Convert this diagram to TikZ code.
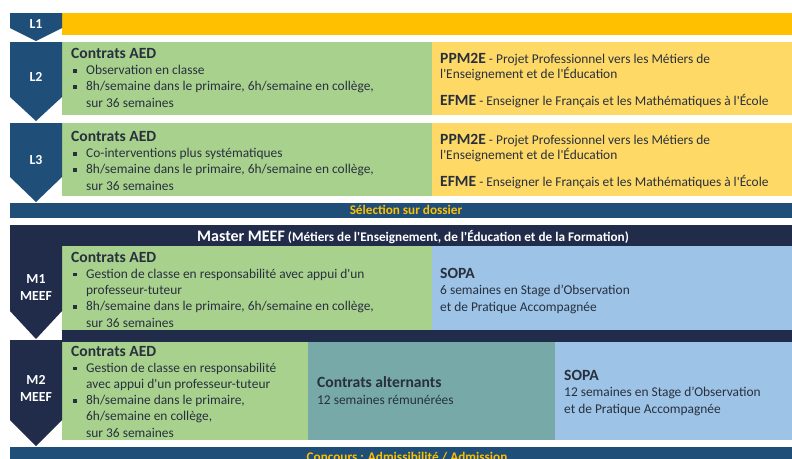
\documentclass[tikz,border=0pt]{standalone}
\usepackage{fontspec}
\setmainfont{Carlito}[Ligatures=TeXOff]
\usepackage{tikz}
\definecolor{lblue}{RGB}{31,78,121}
\definecolor{mnavy}{RGB}{33,44,75}
\definecolor{gold}{RGB}{255,192,0}
\definecolor{lgreen}{RGB}{169,209,142}
\definecolor{lyellow}{RGB}{255,217,102}
\definecolor{sky}{RGB}{157,195,230}
\definecolor{teal}{RGB}{118,169,168}
\definecolor{txt}{RGB}{40,48,62}
\tikzstyle{cell}=[inner sep=0pt, anchor=base west, align=left, text=txt, font=\fontsize{13.4}{16.2}\selectfont]
\tikzstyle{tag}=[inner sep=0pt, align=center, text=white, font=\fontsize{13.8}{17}\selectfont\bfseries]
\tikzstyle{bar}=[inner sep=0pt, anchor=base, text=gold, font=\fontsize{13.2}{15}\selectfont\bfseries]
\newcommand{\hd}[1]{{\fontsize{15.6}{16}\selectfont\bfseries #1}}
\newcommand{\bul}{\hspace*{2pt}\rule[.3ex]{3.6pt}{3.6pt}\hspace*{9.4pt}}
\newcommand{\ind}{\hspace*{15pt}}
\newcommand{\chev}[4]{\fill[#1] (10,#2) -- (62,#2) -- (62,#3) -- (36,#4) -- (10,#3) -- cycle;}
\begin{document}
\begin{tikzpicture}[x=1pt, y=-1pt]
\useasboundingbox (0,0) rectangle (792,458);
\clip (0,0) rectangle (792,458);

\fill[gold] (62,13) rectangle (792,35);
\fill[lgreen] (62,42) rectangle (432,115);
\fill[lyellow] (432,42) rectangle (792,115);
\fill[lgreen] (62,123) rectangle (432,196);
\fill[lyellow] (432,123) rectangle (792,196);
\fill[lblue] (10,203) rectangle (792,218);
\fill[mnavy] (62,225) rectangle (792,342);
\fill[lgreen] (62,246) rectangle (432,330);
\fill[sky] (432,246) rectangle (792,330);
\fill[lgreen] (62,342) rectangle (308,440);
\fill[teal] (308,342) rectangle (555,440);
\fill[sky] (555,342) rectangle (792,440);
\fill[lblue] (10,447) rectangle (792,470);

\chev{lblue}{13}{28}{41}
\chev{lblue}{42}{97}{121}
\chev{lblue}{123}{177}{202}
\chev{mnavy}{225}{311}{339}
\chev{mnavy}{340}{420}{446}

\node[tag] (l1) at (36,24) {L1};
\node[tag] (l2) at (36,77) {L2};
\node[tag] (l3) at (36,160) {L3};
\node[tag] (m1) at (36,288) {M1\\MEEF};
\node[tag] (m2) at (36,388) {M2\\MEEF};

\node[cell] (aedl2) at (71,107) {\hd{Contrats AED}\\
  \bul Observation en classe\\
  \bul 8h/semaine dans le primaire, 6h/semaine en collège,\\
  \ind sur 36 semaines};
\node[cell] (aedl3) at (71,190) {\hd{Contrats AED}\\
  \bul Co-interventions plus systématiques\\
  \bul 8h/semaine dans le primaire, 6h/semaine en collège,\\
  \ind sur 36 semaines};
\foreach \y/\n in {105/ppml2, 186/ppml3}
  \node[cell, font=\fontsize{13.4}{15}\selectfont] (\n) at (440,\y) {\hd{PPM2E} - Projet Professionnel vers les Métiers de\\
    l'Enseignement et de l'Éducation\\[12pt]
    \hd{EFME} - Enseigner le Français et les Mathématiques à l'École};

\node[bar] (select) at (406,214) {Sélection sur dossier};
\node[bar, text=white] (master) at (413,241) {{\fontsize{16}{17}\selectfont Master MEEF} (Métiers de l'Enseignement, de l'Éducation et de la Formation)};

\node[cell] (aedm1) at (71,327) {\hd{Contrats AED}\\
  \bul Gestion de classe en responsabilité avec appui d'un\\
  \ind professeur-tuteur\\
  \bul 8h/semaine dans le primaire, 6h/semaine en collège,\\
  \ind sur 36 semaines};
\node[cell] (sopam1) at (440,311) {\hd{SOPA}\\
  6 semaines en Stage d’Observation\\
  et de Pratique Accompagnée};

\node[cell] (aedm2) at (71,437) {\hd{Contrats AED}\\
  \bul Gestion de classe en responsabilité\\
  \ind avec appui d'un professeur-tuteur\\
  \bul 8h/semaine dans le primaire,\\
  \ind 6h/semaine en collège,\\
  \ind sur 36 semaines};
\node[cell] (alt) at (317,404) {\hd{Contrats alternants}\\
  12 semaines rémunérées};
\node[cell] (sopam2) at (564,413) {\hd{SOPA}\\
  12 semaines en Stage d’Observation\\
  et de Pratique Accompagnée};

\node[bar] (concours) at (407,461) {Concours : Admissibilité / Admission};
\end{tikzpicture}
\end{document}
